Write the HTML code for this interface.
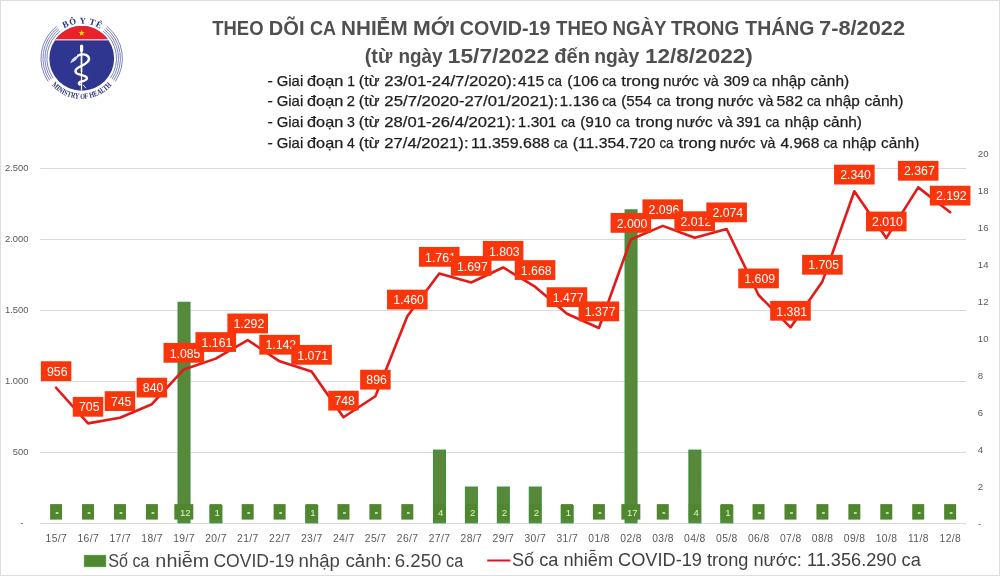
<!DOCTYPE html><html><head><meta charset="utf-8"><title>Covid chart</title><style>
html,body{margin:0;padding:0;background:#fff;}
body{width:1000px;height:576px;overflow:hidden;position:relative;font-family:"Liberation Sans",sans-serif;}
svg{position:absolute;left:0;top:0;display:block;will-change:transform;}
</style></head><body>
<svg width="1000" height="576" viewBox="0 0 1000 576" font-family="Liberation Sans, sans-serif">
<rect x="0.5" y="0.5" width="999" height="575" fill="#fff" stroke="#dedede" stroke-width="1"/>
<g id="logo">
<path d="M53.02,78.11 A34.8,34.8 0 0 1 60.18,31.05 M103.22,31.05 A34.8,34.8 0 0 1 110.38,78.11 M51.40,79.23 A36.769999999999996,36.769999999999996 0 0 1 58.96,29.50 M104.44,29.50 A36.769999999999996,36.769999999999996 0 0 1 112.00,79.23 M49.77,80.34 A38.739999999999995,38.739999999999995 0 0 1 57.74,27.96 M105.66,27.96 A38.739999999999995,38.739999999999995 0 0 1 113.63,80.34 M48.15,81.46 A40.709999999999994,40.709999999999994 0 0 1 56.52,26.41 M106.88,26.41 A40.709999999999994,40.709999999999994 0 0 1 115.25,81.46" fill="none" stroke="#7e84c2" stroke-width="1.0"/>
<circle cx="81.7" cy="58.4" r="32.4" fill="#2e3690"/>
<path d="M55.75,39.0 A32.4,32.4 0 0 1 107.65,39.0 Z" fill="#e8212b"/>
<path d="M55.75,39.0 L107.65,39.0 L108.64,40.4 L54.76,40.4 Z" fill="#f3b8c4"/>
<polygon points="81.70,29.80 82.49,32.01 84.84,32.08 82.98,33.52 83.64,35.77 81.70,34.45 79.76,35.77 80.42,33.52 78.56,32.08 80.91,32.01" fill="#ffd800"/>
<path d="M81.5,50 L81.5,72" stroke="#fff" stroke-width="1.7" fill="none"/>
<path d="M81.5,72 L81.5,90.6" stroke="#fff" stroke-width="1.2" fill="none"/>
<path d="M81.6,46.2 L81.6,50.4" stroke="#fff" stroke-width="3.2" stroke-linecap="round" fill="none"/>
<path d="M78.2,55.6 C81,53.8 86.5,53.6 88.6,57.2 C90.2,60.3 86.8,63.4 81.5,65.8 C76.5,68 74.2,70.5 76.3,73 C78,74.8 84,75 86.4,77 C88.2,78.8 85.5,80.6 81.5,81.5 C78.5,82.2 78.3,83.5 79.8,84.6" fill="none" stroke="#fff" stroke-width="2.4" stroke-linecap="round"/>
<path d="M70.2,63.2 C71.5,59.5 74.5,56.2 78.8,55.2 C77.8,58.6 74.5,61.5 70.2,63.2 Z" fill="#fff"/>
<path d="M71.5,61.8 L77.2,56.6" stroke="#2e3690" stroke-width="0.4"/>
<path d="M83.3,85.1 L85.6,87.8" stroke="#fff" stroke-width="0.9" stroke-linecap="round"/>
<path id="arcTop" d="M59.27,31.67 A34.9,34.9 0 0 1 104.13,31.67" fill="none"/>
<text font-family="Liberation Serif, serif" font-weight="bold" font-size="8.8" fill="#283378"><textPath href="#arcTop" startOffset="51.6%" text-anchor="middle" letter-spacing="0.55">BÔ Y TÊ</textPath></text>
<path id="arcBot" d="M44.11,72.58 A40.0,40.0 0 0 0 119.29,72.58" fill="none"/>
<text font-family="Liberation Serif, serif" font-weight="bold" font-size="8" fill="#283378"><textPath href="#arcBot" startOffset="50%" text-anchor="middle" textLength="68" lengthAdjust="spacingAndGlyphs">MINISTRY OF HEALTH</textPath></text>
</g>
<text x="212.29" y="34.8" font-size="20" textLength="51.18" lengthAdjust="spacingAndGlyphs" font-weight="bold" fill="#4f4f4f">THEO</text>
<text x="268.86" y="34.8" font-size="20" textLength="35.69" lengthAdjust="spacingAndGlyphs" font-weight="bold" fill="#4f4f4f">DÕI</text>
<text x="309.96" y="34.8" font-size="20" textLength="26.01" lengthAdjust="spacingAndGlyphs" font-weight="bold" fill="#4f4f4f">CA</text>
<text x="341.12" y="34.8" font-size="20" textLength="66.46" lengthAdjust="spacingAndGlyphs" font-weight="bold" fill="#4f4f4f">NHIỄM</text>
<text x="413.07" y="34.8" font-size="20" textLength="41.85" lengthAdjust="spacingAndGlyphs" font-weight="bold" fill="#4f4f4f">MỚI</text>
<text x="459.69" y="34.8" font-size="20" textLength="90.74" lengthAdjust="spacingAndGlyphs" font-weight="bold" fill="#4f4f4f">COVID-19</text>
<text x="556.09" y="34.8" font-size="20" textLength="51.69" lengthAdjust="spacingAndGlyphs" font-weight="bold" fill="#4f4f4f">THEO</text>
<text x="612.45" y="34.8" font-size="20" textLength="54.05" lengthAdjust="spacingAndGlyphs" font-weight="bold" fill="#4f4f4f">NGÀY</text>
<text x="670.99" y="34.8" font-size="20" textLength="68.18" lengthAdjust="spacingAndGlyphs" font-weight="bold" fill="#4f4f4f">TRONG</text>
<text x="745.28" y="34.8" font-size="20" textLength="69.12" lengthAdjust="spacingAndGlyphs" font-weight="bold" fill="#4f4f4f">THÁNG</text>
<text x="819.06" y="34.8" font-size="20" textLength="86.01" lengthAdjust="spacingAndGlyphs" font-weight="bold" fill="#4f4f4f">7-8/2022</text>
<text x="364.72" y="62.5" font-size="20" textLength="27.48" lengthAdjust="spacingAndGlyphs" font-weight="bold" fill="#4f4f4f">(từ</text>
<text x="398.45" y="62.5" font-size="20" textLength="44.15" lengthAdjust="spacingAndGlyphs" font-weight="bold" fill="#4f4f4f">ngày</text>
<text x="447.77" y="62.5" font-size="20" textLength="101.35" lengthAdjust="spacingAndGlyphs" font-weight="bold" fill="#4f4f4f">15/7/2022</text>
<text x="554.17" y="62.5" font-size="20" textLength="35.77" lengthAdjust="spacingAndGlyphs" font-weight="bold" fill="#4f4f4f">đến</text>
<text x="594.23" y="62.5" font-size="20" textLength="45.08" lengthAdjust="spacingAndGlyphs" font-weight="bold" fill="#4f4f4f">ngày</text>
<text x="644.98" y="62.5" font-size="20" textLength="107.84" lengthAdjust="spacingAndGlyphs" font-weight="bold" fill="#4f4f4f">12/8/2022)</text>
<text x="267.59" y="85.8" font-size="14.3" textLength="5.32" lengthAdjust="spacingAndGlyphs" fill="#1e1e1e" stroke="#1e1e1e" stroke-width="0.25">-</text>
<text x="276.75" y="85.8" font-size="14.3" textLength="26.45" lengthAdjust="spacingAndGlyphs" fill="#1e1e1e" stroke="#1e1e1e" stroke-width="0.25">Giai</text>
<text x="307.02" y="85.8" font-size="14.3" textLength="36.24" lengthAdjust="spacingAndGlyphs" fill="#1e1e1e" stroke="#1e1e1e" stroke-width="0.25">đoạn</text>
<text x="347.14" y="85.8" font-size="14.3" textLength="7.74" lengthAdjust="spacingAndGlyphs" fill="#1e1e1e" stroke="#1e1e1e" stroke-width="0.25">1</text>
<text x="358.80" y="85.8" font-size="14.3" textLength="20.70" lengthAdjust="spacingAndGlyphs" fill="#1e1e1e" stroke="#1e1e1e" stroke-width="0.25">(từ</text>
<text x="384.36" y="85.8" font-size="14.3" textLength="132.17" lengthAdjust="spacingAndGlyphs" fill="#1e1e1e" stroke="#1e1e1e" stroke-width="0.25">23/01-24/7/2020):</text>
<text x="517.94" y="85.8" font-size="14.3" textLength="26.22" lengthAdjust="spacingAndGlyphs" fill="#1e1e1e" stroke="#1e1e1e" stroke-width="0.25">415</text>
<text x="547.73" y="85.8" font-size="14.3" textLength="14.07" lengthAdjust="spacingAndGlyphs" fill="#1e1e1e" stroke="#1e1e1e" stroke-width="0.25">ca</text>
<text x="567.22" y="85.8" font-size="14.3" textLength="31.68" lengthAdjust="spacingAndGlyphs" fill="#1e1e1e" stroke="#1e1e1e" stroke-width="0.25">(106</text>
<text x="602.13" y="85.8" font-size="14.3" textLength="14.07" lengthAdjust="spacingAndGlyphs" fill="#1e1e1e" stroke="#1e1e1e" stroke-width="0.25">ca</text>
<text x="621.25" y="85.8" font-size="14.3" textLength="38.34" lengthAdjust="spacingAndGlyphs" fill="#1e1e1e" stroke="#1e1e1e" stroke-width="0.25">trong</text>
<text x="663.00" y="85.8" font-size="14.3" textLength="35.90" lengthAdjust="spacingAndGlyphs" fill="#1e1e1e" stroke="#1e1e1e" stroke-width="0.25">nước</text>
<text x="703.65" y="85.8" font-size="14.3" textLength="15.05" lengthAdjust="spacingAndGlyphs" fill="#1e1e1e" stroke="#1e1e1e" stroke-width="0.25">và</text>
<text x="723.41" y="85.8" font-size="14.3" textLength="26.03" lengthAdjust="spacingAndGlyphs" fill="#1e1e1e" stroke="#1e1e1e" stroke-width="0.25">309</text>
<text x="752.63" y="85.8" font-size="14.3" textLength="14.07" lengthAdjust="spacingAndGlyphs" fill="#1e1e1e" stroke="#1e1e1e" stroke-width="0.25">ca</text>
<text x="771.68" y="85.8" font-size="14.3" textLength="34.16" lengthAdjust="spacingAndGlyphs" fill="#1e1e1e" stroke="#1e1e1e" stroke-width="0.25">nhập</text>
<text x="810.54" y="85.8" font-size="14.3" textLength="38.61" lengthAdjust="spacingAndGlyphs" fill="#1e1e1e" stroke="#1e1e1e" stroke-width="0.25">cảnh)</text>
<text x="267.59" y="106.4" font-size="14.3" textLength="5.32" lengthAdjust="spacingAndGlyphs" fill="#1e1e1e" stroke="#1e1e1e" stroke-width="0.25">-</text>
<text x="276.75" y="106.4" font-size="14.3" textLength="26.45" lengthAdjust="spacingAndGlyphs" fill="#1e1e1e" stroke="#1e1e1e" stroke-width="0.25">Giai</text>
<text x="307.02" y="106.4" font-size="14.3" textLength="36.24" lengthAdjust="spacingAndGlyphs" fill="#1e1e1e" stroke="#1e1e1e" stroke-width="0.25">đoạn</text>
<text x="346.76" y="106.4" font-size="14.3" textLength="8.18" lengthAdjust="spacingAndGlyphs" fill="#1e1e1e" stroke="#1e1e1e" stroke-width="0.25">2</text>
<text x="358.80" y="106.4" font-size="14.3" textLength="20.70" lengthAdjust="spacingAndGlyphs" fill="#1e1e1e" stroke="#1e1e1e" stroke-width="0.25">(từ</text>
<text x="384.36" y="106.4" font-size="14.3" textLength="174.17" lengthAdjust="spacingAndGlyphs" fill="#1e1e1e" stroke="#1e1e1e" stroke-width="0.25">25/7/2020-27/01/2021):</text>
<text x="559.50" y="106.4" font-size="14.3" textLength="39.39" lengthAdjust="spacingAndGlyphs" fill="#1e1e1e" stroke="#1e1e1e" stroke-width="0.25">1.136</text>
<text x="602.13" y="106.4" font-size="14.3" textLength="14.07" lengthAdjust="spacingAndGlyphs" fill="#1e1e1e" stroke="#1e1e1e" stroke-width="0.25">ca</text>
<text x="621.26" y="106.4" font-size="14.3" textLength="30.39" lengthAdjust="spacingAndGlyphs" fill="#1e1e1e" stroke="#1e1e1e" stroke-width="0.25">(554</text>
<text x="656.63" y="106.4" font-size="14.3" textLength="14.07" lengthAdjust="spacingAndGlyphs" fill="#1e1e1e" stroke="#1e1e1e" stroke-width="0.25">ca</text>
<text x="675.75" y="106.4" font-size="14.3" textLength="38.03" lengthAdjust="spacingAndGlyphs" fill="#1e1e1e" stroke="#1e1e1e" stroke-width="0.25">trong</text>
<text x="717.70" y="106.4" font-size="14.3" textLength="35.90" lengthAdjust="spacingAndGlyphs" fill="#1e1e1e" stroke="#1e1e1e" stroke-width="0.25">nước</text>
<text x="758.45" y="106.4" font-size="14.3" textLength="15.05" lengthAdjust="spacingAndGlyphs" fill="#1e1e1e" stroke="#1e1e1e" stroke-width="0.25">và</text>
<text x="776.57" y="106.4" font-size="14.3" textLength="26.43" lengthAdjust="spacingAndGlyphs" fill="#1e1e1e" stroke="#1e1e1e" stroke-width="0.25">582</text>
<text x="806.93" y="106.4" font-size="14.3" textLength="14.07" lengthAdjust="spacingAndGlyphs" fill="#1e1e1e" stroke="#1e1e1e" stroke-width="0.25">ca</text>
<text x="825.68" y="106.4" font-size="14.3" textLength="34.16" lengthAdjust="spacingAndGlyphs" fill="#1e1e1e" stroke="#1e1e1e" stroke-width="0.25">nhập</text>
<text x="864.54" y="106.4" font-size="14.3" textLength="38.93" lengthAdjust="spacingAndGlyphs" fill="#1e1e1e" stroke="#1e1e1e" stroke-width="0.25">cảnh)</text>
<text x="267.59" y="126.9" font-size="14.3" textLength="5.32" lengthAdjust="spacingAndGlyphs" fill="#1e1e1e" stroke="#1e1e1e" stroke-width="0.25">-</text>
<text x="276.75" y="126.9" font-size="14.3" textLength="26.45" lengthAdjust="spacingAndGlyphs" fill="#1e1e1e" stroke="#1e1e1e" stroke-width="0.25">Giai</text>
<text x="307.02" y="126.9" font-size="14.3" textLength="36.24" lengthAdjust="spacingAndGlyphs" fill="#1e1e1e" stroke="#1e1e1e" stroke-width="0.25">đoạn</text>
<text x="346.96" y="126.9" font-size="14.3" textLength="7.86" lengthAdjust="spacingAndGlyphs" fill="#1e1e1e" stroke="#1e1e1e" stroke-width="0.25">3</text>
<text x="358.80" y="126.9" font-size="14.3" textLength="20.70" lengthAdjust="spacingAndGlyphs" fill="#1e1e1e" stroke="#1e1e1e" stroke-width="0.25">(từ</text>
<text x="384.36" y="126.9" font-size="14.3" textLength="131.36" lengthAdjust="spacingAndGlyphs" fill="#1e1e1e" stroke="#1e1e1e" stroke-width="0.25">28/01-26/4/2021):</text>
<text x="517.82" y="126.9" font-size="14.3" textLength="38.63" lengthAdjust="spacingAndGlyphs" fill="#1e1e1e" stroke="#1e1e1e" stroke-width="0.25">1.301</text>
<text x="561.13" y="126.9" font-size="14.3" textLength="14.07" lengthAdjust="spacingAndGlyphs" fill="#1e1e1e" stroke="#1e1e1e" stroke-width="0.25">ca</text>
<text x="580.24" y="126.9" font-size="14.3" textLength="30.86" lengthAdjust="spacingAndGlyphs" fill="#1e1e1e" stroke="#1e1e1e" stroke-width="0.25">(910</text>
<text x="615.93" y="126.9" font-size="14.3" textLength="14.07" lengthAdjust="spacingAndGlyphs" fill="#1e1e1e" stroke="#1e1e1e" stroke-width="0.25">ca</text>
<text x="635.45" y="126.9" font-size="14.3" textLength="37.61" lengthAdjust="spacingAndGlyphs" fill="#1e1e1e" stroke="#1e1e1e" stroke-width="0.25">trong</text>
<text x="676.18" y="126.9" font-size="14.3" textLength="36.42" lengthAdjust="spacingAndGlyphs" fill="#1e1e1e" stroke="#1e1e1e" stroke-width="0.25">nước</text>
<text x="717.65" y="126.9" font-size="14.3" textLength="15.05" lengthAdjust="spacingAndGlyphs" fill="#1e1e1e" stroke="#1e1e1e" stroke-width="0.25">và</text>
<text x="736.23" y="126.9" font-size="14.3" textLength="25.00" lengthAdjust="spacingAndGlyphs" fill="#1e1e1e" stroke="#1e1e1e" stroke-width="0.25">391</text>
<text x="765.43" y="126.9" font-size="14.3" textLength="14.07" lengthAdjust="spacingAndGlyphs" fill="#1e1e1e" stroke="#1e1e1e" stroke-width="0.25">ca</text>
<text x="784.69" y="126.9" font-size="14.3" textLength="33.95" lengthAdjust="spacingAndGlyphs" fill="#1e1e1e" stroke="#1e1e1e" stroke-width="0.25">nhập</text>
<text x="823.34" y="126.9" font-size="14.3" textLength="38.61" lengthAdjust="spacingAndGlyphs" fill="#1e1e1e" stroke="#1e1e1e" stroke-width="0.25">cảnh)</text>
<text x="267.59" y="147.5" font-size="14.3" textLength="5.32" lengthAdjust="spacingAndGlyphs" fill="#1e1e1e" stroke="#1e1e1e" stroke-width="0.25">-</text>
<text x="276.75" y="147.5" font-size="14.3" textLength="26.45" lengthAdjust="spacingAndGlyphs" fill="#1e1e1e" stroke="#1e1e1e" stroke-width="0.25">Giai</text>
<text x="307.02" y="147.5" font-size="14.3" textLength="36.24" lengthAdjust="spacingAndGlyphs" fill="#1e1e1e" stroke="#1e1e1e" stroke-width="0.25">đoạn</text>
<text x="346.88" y="147.5" font-size="14.3" textLength="7.73" lengthAdjust="spacingAndGlyphs" fill="#1e1e1e" stroke="#1e1e1e" stroke-width="0.25">4</text>
<text x="358.80" y="147.5" font-size="14.3" textLength="20.70" lengthAdjust="spacingAndGlyphs" fill="#1e1e1e" stroke="#1e1e1e" stroke-width="0.25">(từ</text>
<text x="384.36" y="147.5" font-size="14.3" textLength="84.16" lengthAdjust="spacingAndGlyphs" fill="#1e1e1e" stroke="#1e1e1e" stroke-width="0.25">27/4/2021):</text>
<text x="471.00" y="147.5" font-size="14.3" textLength="78.68" lengthAdjust="spacingAndGlyphs" fill="#1e1e1e" stroke="#1e1e1e" stroke-width="0.25">11.359.688</text>
<text x="553.63" y="147.5" font-size="14.3" textLength="14.07" lengthAdjust="spacingAndGlyphs" fill="#1e1e1e" stroke="#1e1e1e" stroke-width="0.25">ca</text>
<text x="572.74" y="147.5" font-size="14.3" textLength="82.87" lengthAdjust="spacingAndGlyphs" fill="#1e1e1e" stroke="#1e1e1e" stroke-width="0.25">(11.354.720</text>
<text x="659.43" y="147.5" font-size="14.3" textLength="14.07" lengthAdjust="spacingAndGlyphs" fill="#1e1e1e" stroke="#1e1e1e" stroke-width="0.25">ca</text>
<text x="678.45" y="147.5" font-size="14.3" textLength="37.82" lengthAdjust="spacingAndGlyphs" fill="#1e1e1e" stroke="#1e1e1e" stroke-width="0.25">trong</text>
<text x="719.70" y="147.5" font-size="14.3" textLength="35.90" lengthAdjust="spacingAndGlyphs" fill="#1e1e1e" stroke="#1e1e1e" stroke-width="0.25">nước</text>
<text x="760.45" y="147.5" font-size="14.3" textLength="15.05" lengthAdjust="spacingAndGlyphs" fill="#1e1e1e" stroke="#1e1e1e" stroke-width="0.25">và</text>
<text x="780.44" y="147.5" font-size="14.3" textLength="38.93" lengthAdjust="spacingAndGlyphs" fill="#1e1e1e" stroke="#1e1e1e" stroke-width="0.25">4.968</text>
<text x="823.43" y="147.5" font-size="14.3" textLength="14.07" lengthAdjust="spacingAndGlyphs" fill="#1e1e1e" stroke="#1e1e1e" stroke-width="0.25">ca</text>
<text x="842.49" y="147.5" font-size="14.3" textLength="33.85" lengthAdjust="spacingAndGlyphs" fill="#1e1e1e" stroke="#1e1e1e" stroke-width="0.25">nhập</text>
<text x="881.05" y="147.5" font-size="14.3" textLength="38.30" lengthAdjust="spacingAndGlyphs" fill="#1e1e1e" stroke="#1e1e1e" stroke-width="0.25">cảnh)</text>
<line x1="40.3" y1="452.50" x2="966.0" y2="452.50" stroke="#d9d9d9" stroke-width="1"/>
<line x1="40.3" y1="381.50" x2="966.0" y2="381.50" stroke="#d9d9d9" stroke-width="1"/>
<line x1="40.3" y1="310.50" x2="966.0" y2="310.50" stroke="#d9d9d9" stroke-width="1"/>
<line x1="40.3" y1="239.50" x2="966.0" y2="239.50" stroke="#d9d9d9" stroke-width="1"/>
<line x1="40.3" y1="168.50" x2="966.0" y2="168.50" stroke="#d9d9d9" stroke-width="1"/>
<line x1="40.3" y1="523.5" x2="966.0" y2="523.5" stroke="#d9d9d9" stroke-width="1"/>
<text x="28.5" y="455.20" font-size="9.4" fill="#595959" text-anchor="end">500</text>
<text x="28.5" y="384.20" font-size="9.4" fill="#595959" text-anchor="end">1.000</text>
<text x="28.5" y="313.20" font-size="9.4" fill="#595959" text-anchor="end">1.500</text>
<text x="28.5" y="242.20" font-size="9.4" fill="#595959" text-anchor="end">2.000</text>
<text x="28.5" y="171.20" font-size="9.4" fill="#595959" text-anchor="end">2.500</text>
<text x="23.5" y="526.30" font-size="9.6" fill="#595959" text-anchor="end">-</text>
<text x="977.8" y="490.04" font-size="9.6" fill="#595959">2</text>
<text x="977.8" y="453.08" font-size="9.6" fill="#595959">4</text>
<text x="977.8" y="416.12" font-size="9.6" fill="#595959">6</text>
<text x="977.8" y="379.16" font-size="9.6" fill="#595959">8</text>
<text x="977.8" y="342.20" font-size="9.6" fill="#595959">10</text>
<text x="977.8" y="305.24" font-size="9.6" fill="#595959">12</text>
<text x="977.8" y="268.28" font-size="9.6" fill="#595959">14</text>
<text x="977.8" y="231.32" font-size="9.6" fill="#595959">16</text>
<text x="977.8" y="194.36" font-size="9.6" fill="#595959">18</text>
<text x="977.8" y="157.40" font-size="9.6" fill="#595959">20</text>
<text x="978" y="526.70" font-size="9.6" fill="#595959">-</text>
<text x="56.35" y="541.9" font-size="10.3" fill="#595959" text-anchor="middle" letter-spacing="0.4">15/7</text>
<text x="88.28" y="541.9" font-size="10.3" fill="#595959" text-anchor="middle" letter-spacing="0.4">16/7</text>
<text x="120.21" y="541.9" font-size="10.3" fill="#595959" text-anchor="middle" letter-spacing="0.4">17/7</text>
<text x="152.14" y="541.9" font-size="10.3" fill="#595959" text-anchor="middle" letter-spacing="0.4">18/7</text>
<text x="184.07" y="541.9" font-size="10.3" fill="#595959" text-anchor="middle" letter-spacing="0.4">19/7</text>
<text x="216.00" y="541.9" font-size="10.3" fill="#595959" text-anchor="middle" letter-spacing="0.4">20/7</text>
<text x="247.93" y="541.9" font-size="10.3" fill="#595959" text-anchor="middle" letter-spacing="0.4">21/7</text>
<text x="279.86" y="541.9" font-size="10.3" fill="#595959" text-anchor="middle" letter-spacing="0.4">22/7</text>
<text x="311.79" y="541.9" font-size="10.3" fill="#595959" text-anchor="middle" letter-spacing="0.4">23/7</text>
<text x="343.72" y="541.9" font-size="10.3" fill="#595959" text-anchor="middle" letter-spacing="0.4">24/7</text>
<text x="375.65" y="541.9" font-size="10.3" fill="#595959" text-anchor="middle" letter-spacing="0.4">25/7</text>
<text x="407.58" y="541.9" font-size="10.3" fill="#595959" text-anchor="middle" letter-spacing="0.4">26/7</text>
<text x="439.51" y="541.9" font-size="10.3" fill="#595959" text-anchor="middle" letter-spacing="0.4">27/7</text>
<text x="471.44" y="541.9" font-size="10.3" fill="#595959" text-anchor="middle" letter-spacing="0.4">28/7</text>
<text x="503.37" y="541.9" font-size="10.3" fill="#595959" text-anchor="middle" letter-spacing="0.4">29/7</text>
<text x="535.30" y="541.9" font-size="10.3" fill="#595959" text-anchor="middle" letter-spacing="0.4">30/7</text>
<text x="567.23" y="541.9" font-size="10.3" fill="#595959" text-anchor="middle" letter-spacing="0.4">31/7</text>
<text x="599.16" y="541.9" font-size="10.3" fill="#595959" text-anchor="middle" letter-spacing="0.4">01/8</text>
<text x="631.09" y="541.9" font-size="10.3" fill="#595959" text-anchor="middle" letter-spacing="0.4">02/8</text>
<text x="663.02" y="541.9" font-size="10.3" fill="#595959" text-anchor="middle" letter-spacing="0.4">03/8</text>
<text x="694.95" y="541.9" font-size="10.3" fill="#595959" text-anchor="middle" letter-spacing="0.4">04/8</text>
<text x="726.88" y="541.9" font-size="10.3" fill="#595959" text-anchor="middle" letter-spacing="0.4">05/8</text>
<text x="758.81" y="541.9" font-size="10.3" fill="#595959" text-anchor="middle" letter-spacing="0.4">06/8</text>
<text x="790.74" y="541.9" font-size="10.3" fill="#595959" text-anchor="middle" letter-spacing="0.4">07/8</text>
<text x="822.67" y="541.9" font-size="10.3" fill="#595959" text-anchor="middle" letter-spacing="0.4">08/8</text>
<text x="854.60" y="541.9" font-size="10.3" fill="#595959" text-anchor="middle" letter-spacing="0.4">09/8</text>
<text x="886.53" y="541.9" font-size="10.3" fill="#595959" text-anchor="middle" letter-spacing="0.4">10/8</text>
<text x="918.46" y="541.9" font-size="10.3" fill="#595959" text-anchor="middle" letter-spacing="0.4">11/8</text>
<text x="950.39" y="541.9" font-size="10.3" fill="#595959" text-anchor="middle" letter-spacing="0.4">12/8</text>
<rect x="178.02" y="302.24" width="12" height="220.56" fill="#58883a" stroke="#358e3b" stroke-width="1"/>
<rect x="209.95" y="505.52" width="12" height="17.28" fill="#58883a" stroke="#358e3b" stroke-width="1"/>
<rect x="305.74" y="505.52" width="12" height="17.28" fill="#58883a" stroke="#358e3b" stroke-width="1"/>
<rect x="433.46" y="450.08" width="12" height="72.72" fill="#58883a" stroke="#358e3b" stroke-width="1"/>
<rect x="465.39" y="487.04" width="12" height="35.76" fill="#58883a" stroke="#358e3b" stroke-width="1"/>
<rect x="497.32" y="487.04" width="12" height="35.76" fill="#58883a" stroke="#358e3b" stroke-width="1"/>
<rect x="529.25" y="487.04" width="12" height="35.76" fill="#58883a" stroke="#358e3b" stroke-width="1"/>
<rect x="561.18" y="505.52" width="12" height="17.28" fill="#58883a" stroke="#358e3b" stroke-width="1"/>
<rect x="625.04" y="209.84" width="12" height="312.96" fill="#58883a" stroke="#358e3b" stroke-width="1"/>
<rect x="688.90" y="450.08" width="12" height="72.72" fill="#58883a" stroke="#358e3b" stroke-width="1"/>
<rect x="720.83" y="505.52" width="12" height="17.28" fill="#58883a" stroke="#358e3b" stroke-width="1"/>
<rect x="50.10" y="504.1" width="12" height="15.5" fill="#50872e"/>
<rect x="55.70" y="512" width="2.8" height="2" fill="#b9dca2"/>
<rect x="82.03" y="504.1" width="12" height="15.5" fill="#50872e"/>
<rect x="87.63" y="512" width="2.8" height="2" fill="#b9dca2"/>
<rect x="113.96" y="504.1" width="12" height="15.5" fill="#50872e"/>
<rect x="119.56" y="512" width="2.8" height="2" fill="#b9dca2"/>
<rect x="145.89" y="504.1" width="12" height="15.5" fill="#50872e"/>
<rect x="151.49" y="512" width="2.8" height="2" fill="#b9dca2"/>
<rect x="174.32" y="504.1" width="19" height="15.5" fill="#50872e"/>
<text x="185.22" y="515.6" font-size="9.6" fill="#dcf5c8" text-anchor="middle">12</text>
<rect x="209.75" y="504.1" width="12" height="15.5" fill="#50872e"/>
<text x="217.15" y="515.6" font-size="9.6" fill="#dcf5c8" text-anchor="middle">1</text>
<rect x="241.68" y="504.1" width="12" height="15.5" fill="#50872e"/>
<rect x="247.28" y="512" width="2.8" height="2" fill="#b9dca2"/>
<rect x="273.61" y="504.1" width="12" height="15.5" fill="#50872e"/>
<rect x="279.21" y="512" width="2.8" height="2" fill="#b9dca2"/>
<rect x="305.54" y="504.1" width="12" height="15.5" fill="#50872e"/>
<text x="312.94" y="515.6" font-size="9.6" fill="#dcf5c8" text-anchor="middle">1</text>
<rect x="337.47" y="504.1" width="12" height="15.5" fill="#50872e"/>
<rect x="343.07" y="512" width="2.8" height="2" fill="#b9dca2"/>
<rect x="369.40" y="504.1" width="12" height="15.5" fill="#50872e"/>
<rect x="375.00" y="512" width="2.8" height="2" fill="#b9dca2"/>
<rect x="401.33" y="504.1" width="12" height="15.5" fill="#50872e"/>
<rect x="406.93" y="512" width="2.8" height="2" fill="#b9dca2"/>
<rect x="433.26" y="504.1" width="12" height="15.5" fill="#50872e"/>
<text x="440.66" y="515.6" font-size="9.6" fill="#dcf5c8" text-anchor="middle">4</text>
<rect x="465.19" y="504.1" width="12" height="15.5" fill="#50872e"/>
<text x="472.59" y="515.6" font-size="9.6" fill="#dcf5c8" text-anchor="middle">2</text>
<rect x="497.12" y="504.1" width="12" height="15.5" fill="#50872e"/>
<text x="504.52" y="515.6" font-size="9.6" fill="#dcf5c8" text-anchor="middle">2</text>
<rect x="529.05" y="504.1" width="12" height="15.5" fill="#50872e"/>
<text x="536.45" y="515.6" font-size="9.6" fill="#dcf5c8" text-anchor="middle">2</text>
<rect x="560.98" y="504.1" width="12" height="15.5" fill="#50872e"/>
<text x="568.38" y="515.6" font-size="9.6" fill="#dcf5c8" text-anchor="middle">1</text>
<rect x="592.91" y="504.1" width="12" height="15.5" fill="#50872e"/>
<rect x="598.51" y="512" width="2.8" height="2" fill="#b9dca2"/>
<rect x="621.34" y="504.1" width="19" height="15.5" fill="#50872e"/>
<text x="632.24" y="515.6" font-size="9.6" fill="#dcf5c8" text-anchor="middle">17</text>
<rect x="656.77" y="504.1" width="12" height="15.5" fill="#50872e"/>
<rect x="662.37" y="512" width="2.8" height="2" fill="#b9dca2"/>
<rect x="688.70" y="504.1" width="12" height="15.5" fill="#50872e"/>
<text x="696.10" y="515.6" font-size="9.6" fill="#dcf5c8" text-anchor="middle">4</text>
<rect x="720.63" y="504.1" width="12" height="15.5" fill="#50872e"/>
<text x="728.03" y="515.6" font-size="9.6" fill="#dcf5c8" text-anchor="middle">1</text>
<rect x="752.56" y="504.1" width="12" height="15.5" fill="#50872e"/>
<rect x="758.16" y="512" width="2.8" height="2" fill="#b9dca2"/>
<rect x="784.49" y="504.1" width="12" height="15.5" fill="#50872e"/>
<rect x="790.09" y="512" width="2.8" height="2" fill="#b9dca2"/>
<rect x="816.42" y="504.1" width="12" height="15.5" fill="#50872e"/>
<rect x="822.02" y="512" width="2.8" height="2" fill="#b9dca2"/>
<rect x="848.35" y="504.1" width="12" height="15.5" fill="#50872e"/>
<rect x="853.95" y="512" width="2.8" height="2" fill="#b9dca2"/>
<rect x="880.28" y="504.1" width="12" height="15.5" fill="#50872e"/>
<rect x="885.88" y="512" width="2.8" height="2" fill="#b9dca2"/>
<rect x="912.21" y="504.1" width="12" height="15.5" fill="#50872e"/>
<rect x="917.81" y="512" width="2.8" height="2" fill="#b9dca2"/>
<rect x="944.14" y="504.1" width="12" height="15.5" fill="#50872e"/>
<rect x="949.74" y="512" width="2.8" height="2" fill="#b9dca2"/>
<polyline points="56.10,387.75 88.03,423.39 119.96,417.71 151.89,404.22 183.82,369.43 215.75,358.64 247.68,340.04 279.61,361.34 311.54,371.42 343.47,417.28 375.40,396.27 407.33,316.18 439.26,273.44 471.19,282.53 503.12,267.47 535.05,286.64 566.98,313.77 598.91,327.97 630.84,239.50 662.77,225.87 694.70,237.80 726.63,228.99 758.56,295.02 790.49,327.40 822.42,281.39 854.35,191.22 886.28,238.08 918.21,187.39 950.14,212.24" fill="none" stroke="#e31a17" stroke-width="2.6" stroke-linejoin="round" stroke-linecap="round"/>
<rect x="40.85" y="361.25" width="30.5" height="19.8" fill="#f9360b"/>
<text x="57.30" y="375.85" font-size="12.3" fill="#ffffff" text-anchor="middle">956</text>
<rect x="72.78" y="396.89" width="30.5" height="19.8" fill="#f9360b"/>
<text x="89.23" y="411.49" font-size="12.3" fill="#ffffff" text-anchor="middle">705</text>
<rect x="104.71" y="391.21" width="30.5" height="19.8" fill="#f9360b"/>
<text x="121.16" y="405.81" font-size="12.3" fill="#ffffff" text-anchor="middle">745</text>
<rect x="136.64" y="377.72" width="30.5" height="19.8" fill="#f9360b"/>
<text x="153.09" y="392.32" font-size="12.3" fill="#ffffff" text-anchor="middle">840</text>
<rect x="163.52" y="342.93" width="40.6" height="19.8" fill="#f9360b"/>
<text x="185.02" y="357.53" font-size="12.3" fill="#ffffff" text-anchor="middle">1.085</text>
<rect x="195.45" y="332.14" width="40.6" height="19.8" fill="#f9360b"/>
<text x="216.95" y="346.74" font-size="12.3" fill="#ffffff" text-anchor="middle">1.161</text>
<rect x="227.38" y="313.54" width="40.6" height="19.8" fill="#f9360b"/>
<text x="248.88" y="328.14" font-size="12.3" fill="#ffffff" text-anchor="middle">1.292</text>
<rect x="259.31" y="334.84" width="40.6" height="19.8" fill="#f9360b"/>
<text x="280.81" y="349.44" font-size="12.3" fill="#ffffff" text-anchor="middle">1.142</text>
<rect x="291.24" y="344.92" width="40.6" height="19.8" fill="#f9360b"/>
<text x="312.74" y="359.52" font-size="12.3" fill="#ffffff" text-anchor="middle">1.071</text>
<rect x="328.22" y="390.78" width="30.5" height="19.8" fill="#f9360b"/>
<text x="344.67" y="405.38" font-size="12.3" fill="#ffffff" text-anchor="middle">748</text>
<rect x="360.15" y="369.77" width="30.5" height="19.8" fill="#f9360b"/>
<text x="376.60" y="384.37" font-size="12.3" fill="#ffffff" text-anchor="middle">896</text>
<rect x="387.03" y="289.68" width="40.6" height="19.8" fill="#f9360b"/>
<text x="408.53" y="304.28" font-size="12.3" fill="#ffffff" text-anchor="middle">1.460</text>
<rect x="418.96" y="246.94" width="40.6" height="19.8" fill="#f9360b"/>
<text x="440.46" y="261.54" font-size="12.3" fill="#ffffff" text-anchor="middle">1.761</text>
<rect x="450.89" y="256.03" width="40.6" height="19.8" fill="#f9360b"/>
<text x="472.39" y="270.63" font-size="12.3" fill="#ffffff" text-anchor="middle">1.697</text>
<rect x="482.82" y="240.97" width="40.6" height="19.8" fill="#f9360b"/>
<text x="504.32" y="255.57" font-size="12.3" fill="#ffffff" text-anchor="middle">1.803</text>
<rect x="514.75" y="260.14" width="40.6" height="19.8" fill="#f9360b"/>
<text x="536.25" y="274.74" font-size="12.3" fill="#ffffff" text-anchor="middle">1.668</text>
<rect x="546.68" y="287.27" width="40.6" height="19.8" fill="#f9360b"/>
<text x="568.18" y="301.87" font-size="12.3" fill="#ffffff" text-anchor="middle">1.477</text>
<rect x="578.61" y="301.47" width="40.6" height="19.8" fill="#f9360b"/>
<text x="600.11" y="316.07" font-size="12.3" fill="#ffffff" text-anchor="middle">1.377</text>
<rect x="610.54" y="213.00" width="40.6" height="19.8" fill="#f9360b"/>
<text x="632.04" y="227.60" font-size="12.3" fill="#ffffff" text-anchor="middle">2.000</text>
<rect x="642.47" y="199.37" width="40.6" height="19.8" fill="#f9360b"/>
<text x="663.97" y="213.97" font-size="12.3" fill="#ffffff" text-anchor="middle">2.096</text>
<rect x="674.40" y="211.30" width="40.6" height="19.8" fill="#f9360b"/>
<text x="695.90" y="225.90" font-size="12.3" fill="#ffffff" text-anchor="middle">2.012</text>
<rect x="706.33" y="202.49" width="40.6" height="19.8" fill="#f9360b"/>
<text x="727.83" y="217.09" font-size="12.3" fill="#ffffff" text-anchor="middle">2.074</text>
<rect x="738.26" y="268.52" width="40.6" height="19.8" fill="#f9360b"/>
<text x="759.76" y="283.12" font-size="12.3" fill="#ffffff" text-anchor="middle">1.609</text>
<rect x="770.19" y="300.90" width="40.6" height="19.8" fill="#f9360b"/>
<text x="791.69" y="315.50" font-size="12.3" fill="#ffffff" text-anchor="middle">1.381</text>
<rect x="802.12" y="254.89" width="40.6" height="19.8" fill="#f9360b"/>
<text x="823.62" y="269.49" font-size="12.3" fill="#ffffff" text-anchor="middle">1.705</text>
<rect x="834.05" y="164.72" width="40.6" height="19.8" fill="#f9360b"/>
<text x="855.55" y="179.32" font-size="12.3" fill="#ffffff" text-anchor="middle">2.340</text>
<rect x="865.98" y="211.58" width="40.6" height="19.8" fill="#f9360b"/>
<text x="887.48" y="226.18" font-size="12.3" fill="#ffffff" text-anchor="middle">2.010</text>
<rect x="897.91" y="160.89" width="40.6" height="19.8" fill="#f9360b"/>
<text x="919.41" y="175.49" font-size="12.3" fill="#ffffff" text-anchor="middle">2.367</text>
<rect x="929.84" y="185.74" width="40.6" height="19.8" fill="#f9360b"/>
<text x="951.34" y="200.34" font-size="12.3" fill="#ffffff" text-anchor="middle">2.192</text>
<rect x="84" y="555" width="22" height="12" fill="#4f882e" stroke="#7fd87f" stroke-width="0.5"/>
<text x="108.27" y="566.8" font-size="18" textLength="19.76" lengthAdjust="spacingAndGlyphs" fill="#454545">Số</text>
<text x="132.62" y="566.8" font-size="18" textLength="16.88" lengthAdjust="spacingAndGlyphs" fill="#454545">ca</text>
<text x="155.39" y="566.8" font-size="18" textLength="53.92" lengthAdjust="spacingAndGlyphs" fill="#454545">nhiễm</text>
<text x="213.41" y="566.8" font-size="18" textLength="80.92" lengthAdjust="spacingAndGlyphs" fill="#454545">COVID-19</text>
<text x="298.56" y="566.8" font-size="18" textLength="41.42" lengthAdjust="spacingAndGlyphs" fill="#454545">nhập</text>
<text x="345.40" y="566.8" font-size="18" textLength="46.02" lengthAdjust="spacingAndGlyphs" fill="#454545">cảnh:</text>
<text x="394.75" y="566.8" font-size="18" textLength="46.68" lengthAdjust="spacingAndGlyphs" fill="#454545">6.250</text>
<text x="446.01" y="566.8" font-size="18" textLength="17.19" lengthAdjust="spacingAndGlyphs" fill="#454545">ca</text>
<line x1="487.2" y1="560.5" x2="510.4" y2="560.5" stroke="#e0141e" stroke-width="2"/>
<text x="511.98" y="565.6" font-size="18.1" textLength="408.82" lengthAdjust="spacingAndGlyphs" fill="#404040">Số ca nhiễm COVID-19 trong nước: 11.356.290 ca</text>
</svg></body></html>
